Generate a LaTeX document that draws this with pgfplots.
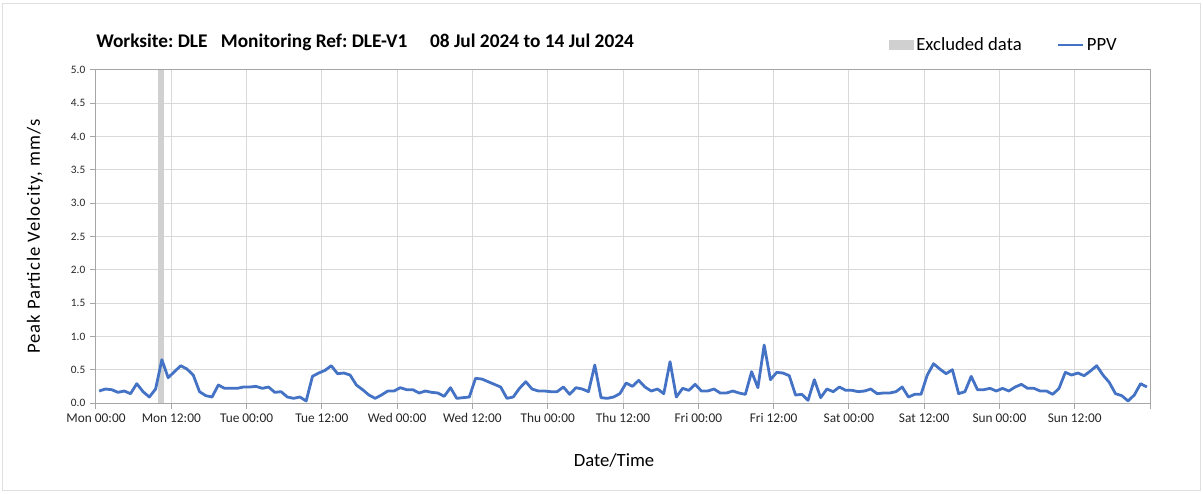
\documentclass[border=0pt]{standalone}
\usepackage{fontspec}
\setmainfont{Carlito}
\usepackage{pgfplots}
\usepackage{pgfplotstable}
\pgfplotsset{compat=1.18}
\definecolor{ppvblue}{HTML}{4472C4}
\definecolor{excl}{HTML}{D0D0D0}
\definecolor{gridgrey}{HTML}{D9D9D9}
\definecolor{axisgrey}{HTML}{A6A6A6}
\frenchspacing

% hourly PPV, x in hours from Mon 00:00
\pgfplotstableread{
h v
0.5 0.18
1.5 0.21
2.5 0.20
3.5 0.16
4.5 0.18
5.5 0.14
6.5 0.29
7.5 0.17
8.5 0.09
9.5 0.21
10.5 0.65
11.5 0.38
12.5 0.47
13.5 0.56
14.5 0.51
15.5 0.42
16.5 0.17
17.5 0.11
18.5 0.09
19.5 0.27
20.5 0.22
21.5 0.22
22.5 0.22
23.5 0.24
24.5 0.24
25.5 0.25
26.5 0.22
27.5 0.24
28.5 0.16
29.5 0.17
30.5 0.09
31.5 0.07
32.5 0.09
33.5 0.03
34.5 0.40
35.5 0.45
36.5 0.49
37.5 0.56
38.5 0.44
39.5 0.45
40.5 0.42
41.5 0.27
42.5 0.20
43.5 0.12
44.5 0.07
45.5 0.12
46.5 0.18
47.5 0.18
48.5 0.23
49.5 0.20
50.5 0.20
51.5 0.15
52.5 0.18
53.5 0.16
54.5 0.15
55.5 0.10
56.5 0.23
57.5 0.07
58.5 0.08
59.5 0.09
60.5 0.37
61.5 0.36
62.5 0.32
63.5 0.28
64.5 0.24
65.5 0.07
66.5 0.09
67.5 0.22
68.5 0.32
69.5 0.21
70.5 0.18
71.5 0.18
72.5 0.17
73.5 0.17
74.5 0.24
75.5 0.13
76.5 0.23
77.5 0.21
78.5 0.17
79.5 0.57
80.5 0.08
81.5 0.07
82.5 0.09
83.5 0.14
84.5 0.30
85.5 0.25
86.5 0.34
87.5 0.24
88.5 0.18
89.5 0.21
90.5 0.14
91.5 0.62
92.5 0.09
93.5 0.22
94.5 0.19
95.5 0.28
96.5 0.18
97.5 0.18
98.5 0.21
99.5 0.15
100.5 0.15
101.5 0.18
102.5 0.15
103.5 0.13
104.5 0.47
105.5 0.23
106.5 0.87
107.5 0.35
108.5 0.46
109.5 0.45
110.5 0.41
111.5 0.12
112.5 0.13
113.5 0.04
114.5 0.35
115.5 0.08
116.5 0.21
117.5 0.17
118.5 0.24
119.5 0.19
120.5 0.19
121.5 0.17
122.5 0.18
123.5 0.21
124.5 0.14
125.5 0.15
126.5 0.15
127.5 0.17
128.5 0.24
129.5 0.09
130.5 0.13
131.5 0.13
132.5 0.42
133.5 0.59
134.5 0.51
135.5 0.44
136.5 0.50
137.5 0.14
138.5 0.17
139.5 0.40
140.5 0.20
141.5 0.20
142.5 0.22
143.5 0.18
144.5 0.22
145.5 0.18
146.5 0.24
147.5 0.28
148.5 0.22
149.5 0.22
150.5 0.18
151.5 0.18
152.5 0.13
153.5 0.22
154.5 0.46
155.5 0.42
156.5 0.45
157.5 0.41
158.5 0.48
159.5 0.56
160.5 0.42
161.5 0.31
162.5 0.14
163.5 0.11
164.5 0.03
165.5 0.12
166.5 0.29
167.5 0.24
}\ppvdata

\begin{document}
\begin{tikzpicture}
\useasboundingbox (0pt,0pt) rectangle (902.25pt,369.75pt);
\draw[gray!25] (2pt,2pt) rectangle (900pt,367.5pt);
\begin{axis}[
  at={(72pt,67.5pt)}, anchor=south west,
  width=790.5pt, height=249.75pt, scale only axis,
  xmin=0, xmax=168, ymin=0, ymax=5,
  xtick={0,12,...,168},
  xticklabels={Mon 00:00, Mon 12:00, Tue 00:00, Tue 12:00, Wed 00:00, Wed 12:00, Thu 00:00, Thu 12:00, Fri 00:00, Fri 12:00, Sat 00:00, Sat 12:00, Sun 00:00, Sun 12:00, {}},
  ytick={0,0.5,...,5},
  grid=major, major grid style={gridgrey, line width=0.75pt},
  axis line style={axisgrey, line width=0.75pt},
  tick style={axisgrey, line width=0.75pt},
  tick align=outside, major tick length=4.5pt, tick pos=left,
  xticklabel style={font=\fontsize{10}{12}\selectfont, text=black!85},
  yticklabel style={font=\fontsize{8.5}{10}\selectfont, text=black!85,
    /pgf/number format/.cd, fixed, fixed zerofill, precision=1, assume math mode=true},
  xlabel={Date/Time},
  xlabel style={at={(axis description cs:0.4915,-0.171)}, anchor=center, font=\fontsize{14}{16}\selectfont},
  ylabel={Peak Particle Velocity, mm/s},
  ylabel style={at={(axis description cs:-0.058,0.5)}, anchor=center,
    font=\fontsize{14}{16}\selectfont\addfontfeature{LetterSpace=5}},
  every axis title shift=0pt,
  title={Worksite: DLE\hspace{10pt}Monitoring Ref: DLE-V1\hspace{17pt}08 Jul 2024 to 14 Jul 2024},
  title style={at={(axis description cs:0,1.084)}, anchor=west, inner sep=0pt,
    font=\bfseries\fontsize{14.5}{16}\selectfont},
  legend style={at={(axis description cs:0.748,1.075)}, anchor=west, draw=none, fill=none,
    font=\fontsize{14}{16}\selectfont, legend columns=2,
    /tikz/every even column/.append style={column sep=24pt}},
  legend cell align=left,
]
\addplot[fill=excl, draw=none,
  legend image code/.code={\fill[excl] (0pt,-3.75pt) rectangle (18.75pt,3.75pt);}]
  coordinates {(9.9,5) (10.8,5)} \closedcycle;
\addlegendentry{Excluded data}
\addplot[ppvblue, line width=2.1pt, line join=round,
  legend image code/.code={\draw[ppvblue, line width=2.1pt] (0pt,0pt) -- (18.75pt,0pt);}]
  table[x=h, y=v] {\ppvdata};
\addlegendentry{PPV}
\end{axis}
\end{tikzpicture}
\end{document}
